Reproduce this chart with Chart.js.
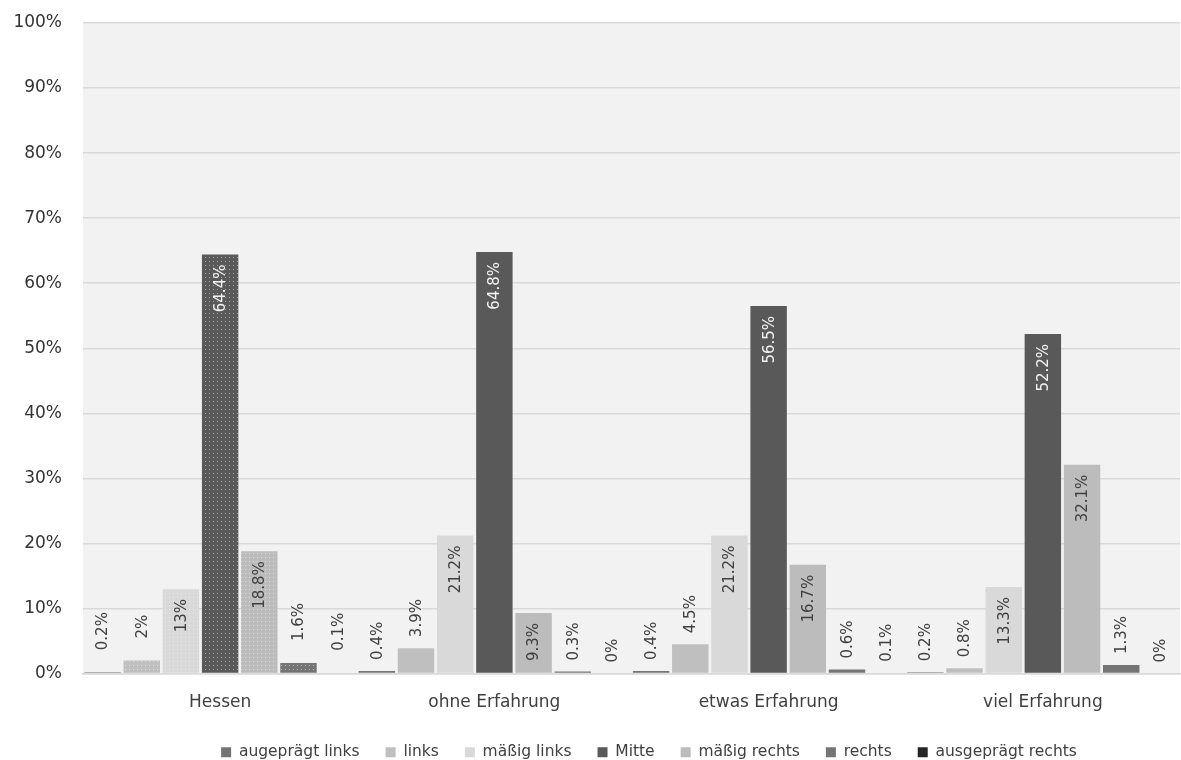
<!DOCTYPE html>
<html>
<head>
<meta charset="utf-8">
<script src="https://cdn.jsdelivr.net/npm/chart.js@4/dist/chart.umd.min.js"></script>
<style>
  html, body { margin: 0; padding: 0; background: #fff; }
  #wrap { width: 1181px; height: 760px; position: relative; }
</style>
</head>
<body>
<div id="wrap"><canvas id="chart"></canvas></div>
<script>
// Data
const groups = ['Hessen', 'ohne Erfahrung', 'etwas Erfahrung', 'viel Erfahrung'];
const seriesNames = ['augeprägt links', 'links', 'mäßig links', 'Mitte', 'mäßig rechts', 'rechts', 'ausgeprägt rechts'];
const ausgepraegtLinks = [0.2, 0.4, 0.4, 0.2];
const links = [2, 3.9, 4.5, 0.8];
const maessigLinks = [13, 21.2, 21.2, 13.3];
const mitte = [64.4, 64.8, 56.5, 52.2];
const maessigRechts = [18.8, 9.3, 16.7, 32.1];
const rechts = [1.6, 0.3, 0.6, 1.3];
const ausgepraegtRechts = [0.1, 0, 0.1, 0];
const yTicks = [0, 10, 20, 30, 40, 50, 60, 70, 80, 90, 100];

const seriesValues = [ausgepraegtLinks, links, maessigLinks, mitte, maessigRechts, rechts, ausgepraegtRechts];
const colors = ['#737373', '#bfbfbf', '#d9d9d9', '#595959', '#bcbcbc', '#757575', '#262626'];
const FONT = 'DejaVu Sans';

// dotted fill used by the first group
const patternCache = {};
function dotted(color){
  if(patternCache[color]) return patternCache[color];
  const c = document.createElement('canvas');
  c.width = 4; c.height = 4;
  const g = c.getContext('2d');
  g.fillStyle = color;
  g.fillRect(0, 0, 4, 4);
  g.fillStyle = 'rgba(255,255,255,0.45)';
  g.fillRect(1, 1, 1, 1);
  const p = g.createPattern(c, 'repeat');
  patternCache[color] = p;
  return p;
}

// plot area background
const plotBg = {
  id: 'plotBg',
  beforeDraw(chart){
    const {ctx, chartArea: a} = chart;
    ctx.save();
    ctx.fillStyle = '#f2f2f2';
    ctx.fillRect(a.left, a.top, a.right - a.left, a.bottom - a.top);
    ctx.restore();
  }
};

// legend sits a bit right of the canvas centre in the original
const legendShift = {
  id: 'legendShift',
  afterLayout(chart){
    if(!chart.legend) return;
    chart.legend.left += 59;
    chart.legend.right += 59;
  }
};

// rotated value labels
const valueLabels = {
  id: 'valueLabels',
  afterDatasetsDraw(chart){
    const ctx = chart.ctx;
    ctx.save();
    ctx.font = '15px "' + FONT + '"';
    ctx.textBaseline = 'middle';
    chart.data.datasets.forEach((ds, di) => {
      const meta = chart.getDatasetMeta(di);
      meta.data.forEach((bar, i) => {
        const v = ds.data[i];
        const inside = v >= 9;
        let y;
        if(inside){
          y = bar.y + 10;
          ctx.textAlign = 'right';
          ctx.fillStyle = di === 3 ? '#f2f2f2' : '#404040';
        } else {
          y = bar.y - (i === 0 ? 22 : 11);
          ctx.textAlign = 'left';
          ctx.fillStyle = '#404040';
        }
        ctx.save();
        ctx.translate(bar.x, y);
        ctx.rotate(-Math.PI / 2);
        ctx.fillText(v + '%', 0, 1);
        ctx.restore();
      });
    });
    ctx.restore();
  }
};

const datasets = seriesNames.map((name, si) => ({
  label: name,
  data: seriesValues[si],
  backgroundColor: (c) => c.dataIndex === 0 ? dotted(colors[si]) : colors[si],
  borderWidth: 0,
  categoryPercentage: 1.0,
  barPercentage: 0.93,
}));

new Chart(document.getElementById('chart'), {
  type: 'bar',
  data: { labels: groups, datasets },
  options: {
    responsive: true,
    maintainAspectRatio: false,
    animation: false,
    layout: { padding: { top: 23, right: 1, left: 0, bottom: -10 } },
    scales: {
      x: {
        grid: { display: false, drawTicks: false },
        border: { color: '#d9d9d9', width: 1.5 },
        ticks: { color: '#404040', font: { family: FONT, size: 17 }, padding: 19 },
        afterFit: (s) => { s.height = 45; }
      },
      y: {
        min: 0, max: 100,
        afterBuildTicks: (s) => { s.ticks = yTicks.map(v => ({value: v})); },
        grid: { color: '#d9d9d9', lineWidth: 1.5, drawTicks: false },
        border: { display: false },
        ticks: { color: '#333333', font: { family: FONT, size: 17 }, padding: 21, callback: (v) => v + '%' },
        afterFit: (s) => { s.width = 83; s.paddingTop = 0; s.paddingBottom = 0; }
      }
    },
    plugins: {
      legend: {
        position: 'bottom',
        labels: {
          color: '#404040',
          font: { family: FONT, size: 15.5 },
          boxWidth: 10, boxHeight: 10,
          padding: 26,
          generateLabels: (chart) => chart.data.datasets.map((ds, i) => ({
            text: ds.label, fillStyle: colors[i], strokeStyle: colors[i], lineWidth: 0,
            hidden: false, datasetIndex: i, fontColor: '#404040'
          }))
        }
      },
      tooltip: { enabled: false }
    }
  },
  plugins: [plotBg, legendShift, valueLabels]
});
</script>
</body>
</html>
